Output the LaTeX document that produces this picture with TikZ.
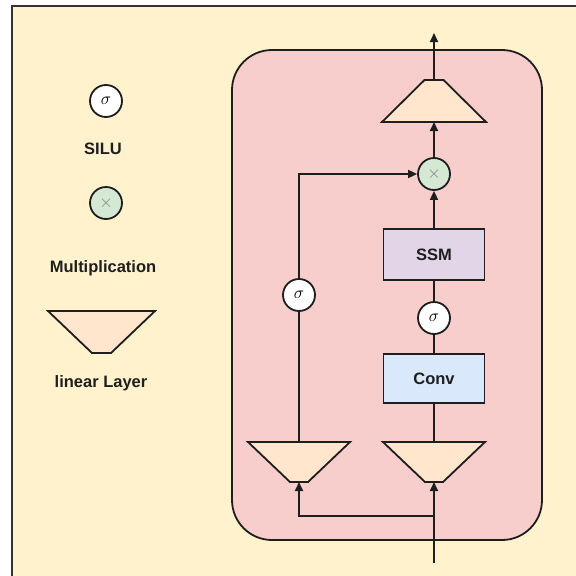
\documentclass[tikz,border=0pt]{standalone}
\usepackage{fontspec}
\setmainfont{Liberation Sans}
\usetikzlibrary{arrows.meta,calc}
\definecolor{bgcream}{HTML}{FFF2CC}
\definecolor{blockpink}{HTML}{F8CECC}
\definecolor{trapfill}{HTML}{FFE6CC}
\definecolor{multfill}{HTML}{D5E8D4}
\definecolor{ssmfill}{HTML}{E1D5E7}
\definecolor{convfill}{HTML}{DAE8FC}
\definecolor{linecol}{HTML}{1E1E1E}
\definecolor{framecol}{HTML}{333333}
\newcommand\trapnarrowtop[2]{% node name, inset
  \draw[trapdraw] (#1.south west) -- (#1.south east) -- ($(#1.north east)+(-#2,0)$) -- ($(#1.north west)+(#2,0)$) -- cycle;}
\newcommand\trapwidetop[2]{%
  \draw[trapdraw] (#1.north west) -- (#1.north east) -- ($(#1.south east)+(-#2,0)$) -- ($(#1.south west)+(#2,0)$) -- cycle;}
\begin{document}
\begin{tikzpicture}[x=1pt,y=-1pt,
  line width=1.8pt,
  conn/.style={draw=linecol,line width=1.8pt},
  arr/.style={conn,-{Triangle[length=9pt,width=8pt]}},
  sigmacirc/.style={circle,draw=linecol,fill=white,minimum size=32pt,inner sep=0pt,line width=1.8pt,font=\fontsize{17}{19}\selectfont},
  multcirc/.style={circle,draw=linecol,fill=multfill,minimum size=32pt,inner sep=0pt,line width=1.8pt,font=\fontsize{18}{20}\selectfont},
  trapbox/.style={rectangle,inner sep=0pt,outer sep=0pt,minimum width=104pt,minimum height=42pt},
  trapdraw/.style={draw=linecol,fill=trapfill,line width=1.8pt,line join=miter},
  blockbox/.style={rectangle,draw=linecol,line width=1.8pt,minimum width=101pt,inner sep=0pt,outer sep=0pt,font=\bfseries\fontsize{16.5}{19}\selectfont,text=linecol},
  legendtext/.style={font=\bfseries\fontsize{16.5}{19}\selectfont,text=linecol,inner sep=0pt}
]
\useasboundingbox (0,0) rectangle (576,576);
% background and frame
\fill[bgcream] (12,6) rectangle (580,580);
\draw[framecol,line width=2pt] (12,580) -- (12,6) -- (580,6);
% Mamba block
\draw[linecol,line width=1.8pt,fill=blockpink,rounded corners=40pt] (232,50) rectangle (542,540);

% legend
\node[sigmacirc] (lsig) at (106,101) {$\sigma$};
\node[legendtext] (lsilu) at (103,149) {SILU};
\node[multcirc] (lmult) at (106,203) {\textcolor{gray}{$\times$}};
\node[legendtext] (lmultt) at (103,268) {Multiplication};
\node[trapbox,minimum width=107pt] (ltrap) at (101.5,332) {};
\trapwidetop{ltrap}{44}
\node[legendtext] (llin) at (101,383) {linear Layer};

% main nodes
\node[trapbox] (out) at (434,101) {};
\trapnarrowtop{out}{42.5}
\node[multcirc] (mult) at (434,174) {\textcolor{gray}{$\times$}};
\node[blockbox,fill=ssmfill,minimum height=51pt] (ssm) at (434,254.5) {SSM};
\node[sigmacirc] (sig2) at (434,318) {$\sigma$};
\node[blockbox,fill=convfill,minimum height=49pt] (conv) at (434,378.5) {Conv};
\node[trapbox,minimum width=102pt,minimum height=40pt] (lin2) at (434,462) {};
\trapwidetop{lin2}{42}
\node[trapbox,minimum width=102pt,minimum height=40pt] (lin1) at (299,462) {};
\trapwidetop{lin1}{42}
\node[sigmacirc] (sig1) at (299,295) {$\sigma$};

\coordinate (in) at (434,563);
\coordinate (split) at (434,516);
\coordinate (top) at (434,33);

% connectors
\draw[arr] (in) -- (lin2.south);
\draw[arr] (split) -| (lin1.south);
\draw[conn] (lin1.north) -- (sig1.south);
\draw[arr] (sig1.north) |- (mult.west);
\draw[conn] (lin2.north) -- (conv.south);
\draw[conn] (conv.north) -- (sig2.south);
\draw[conn] (sig2.north) -- (ssm.south);
\draw[arr] (ssm.north) -- (mult.south);
\draw[arr] (mult.north) -- (out.south);
\draw[arr] (out.north) -- (top);
\end{tikzpicture}
\end{document}
